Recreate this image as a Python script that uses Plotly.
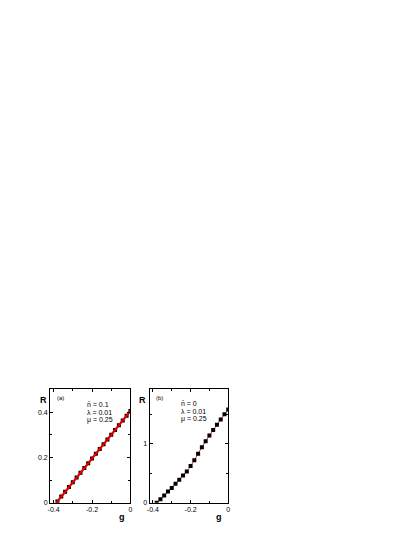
import plotly.graph_objects as go

# Panel (a): n̄ = 0.1
g_a = [-0.38, -0.36, -0.34, -0.32, -0.30, -0.28, -0.26, -0.24, -0.22, -0.20,
       -0.18, -0.16, -0.14, -0.12, -0.10, -0.08, -0.06, -0.04, -0.02, 0.00]
R_a = [0.005, 0.027, 0.048, 0.069, 0.090, 0.111, 0.132, 0.153, 0.174, 0.195,
       0.216, 0.237, 0.258, 0.279, 0.300, 0.321, 0.342, 0.363, 0.384, 0.405]
g_a_line = [-0.385, -0.30, -0.20, -0.10, 0.00]
R_a_line = [0.0, 0.090, 0.195, 0.300, 0.405]

# Panel (b): n̄ = 0
g_b = [-0.38, -0.36, -0.34, -0.32, -0.30, -0.28, -0.26, -0.24, -0.22, -0.20,
       -0.18, -0.16, -0.14, -0.12, -0.10, -0.08, -0.06, -0.04, -0.02, 0.00]
R_b = [0.00, 0.06, 0.12, 0.19, 0.25, 0.32, 0.39, 0.46, 0.53, 0.62,
       0.72, 0.83, 0.94, 1.04, 1.14, 1.23, 1.32, 1.41, 1.50, 1.58]

x_tickvals = [-0.4, -0.2, 0]
x_ticktext = ["-0.4", "-0.2", "0"]
ya_tickvals = [0, 0.2, 0.4]
ya_ticktext = ["0", "0.2", "0.4"]
yb_tickvals = [0, 1]
yb_ticktext = ["0", "1"]

labels_a = ["(a)", "n\u0304 = 0.1", "\u03bb = 0.01", "\u03bc = 0.25"]
labels_b = ["(b)", "n\u0304 = 0", "\u03bb = 0.01", "\u03bc = 0.25"]

FONT = "Liberation Sans, Arial, sans-serif"

fig = go.Figure()

# panel a
fig.add_trace(go.Scatter(x=g_a, y=R_a, mode="markers", xaxis="x", yaxis="y",
                         marker=dict(symbol="square", size=4, color="black"),
                         showlegend=False))
fig.add_trace(go.Scatter(x=g_a_line, y=R_a_line, mode="lines", xaxis="x", yaxis="y",
                         line=dict(color="#e00000", width=2.2), showlegend=False))
# panel b
fig.add_trace(go.Scatter(x=g_b, y=R_b, mode="lines", xaxis="x2", yaxis="y2",
                         line=dict(color="#ff2020", width=1, shape="spline"),
                         showlegend=False))
fig.add_trace(go.Scatter(x=g_b, y=R_b, mode="markers", xaxis="x2", yaxis="y2",
                         marker=dict(symbol="square", size=4, color="black"),
                         showlegend=False))

common = dict(showline=True, linecolor="black", linewidth=1, mirror="allticks",
              ticks="inside", ticklen=3, tickwidth=1, tickcolor="black",
              showgrid=False, zeroline=False,
              tickfont=dict(family=FONT, size=7, color="black"))

y_dom = [1 - 505.5 / 537, 1 - 391 / 537]

fig.update_layout(
    width=415, height=537,
    paper_bgcolor="white", plot_bgcolor="white",
    margin=dict(l=0, r=0, t=0, b=0),
    hovermode=False,
    xaxis=dict(domain=[47.7 / 415, 129 / 415], range=[-0.418, 0], anchor="y",
               tickvals=x_tickvals, ticktext=x_ticktext,
               minor=dict(dtick=0.1, tick0=0, ticks="inside", ticklen=2, tickcolor="black"),
               **common),
    yaxis=dict(domain=y_dom, range=[0, 0.503], anchor="x",
               tickvals=ya_tickvals, ticktext=ya_ticktext,
               minor=dict(dtick=0.1, tick0=0, ticks="inside", ticklen=2, tickcolor="black"),
               **common),
    xaxis2=dict(domain=[148.3 / 415, 228 / 415], range=[-0.418, 0], anchor="y2",
                tickvals=x_tickvals, ticktext=x_ticktext,
                minor=dict(dtick=0.1, tick0=0, ticks="inside", ticklen=2, tickcolor="black"),
                **common),
    yaxis2=dict(domain=y_dom, range=[0, 1.93], anchor="x2",
                tickvals=yb_tickvals, ticktext=yb_ticktext,
                minor=dict(dtick=0.5, tick0=0, ticks="inside", ticklen=2, tickcolor="black"),
                **common),
)

def pan(x, y, text, size=7, bold=False, xanchor="left"):
    fig.add_annotation(x=x / 415, y=1 - y / 537, xref="paper", yref="paper",
                       text=("<b>%s</b>" % text) if bold else text,
                       showarrow=False, xanchor=xanchor, yanchor="middle",
                       font=dict(family=FONT, size=size, color="black"))

# axis titles
pan(41, 402, "R", size=9, bold=True, xanchor="center")
pan(120, 520, "g", size=9, bold=True, xanchor="center")
pan(141, 402, "R", size=9, bold=True, xanchor="center")
pan(219, 520, "g", size=9, bold=True, xanchor="center")

# panel labels and parameters
pan(53, 400, labels_a[0], size=6)
pan(83, 407, labels_a[1])
pan(83, 415, labels_a[2])
pan(83, 422, labels_a[3])

pan(153, 400, labels_b[0], size=6)
pan(178, 406, labels_b[1])
pan(178, 414, labels_b[2])
pan(178, 421, labels_b[3])

fig.write_html("out.html", config={"displayModeBar": False, "staticPlot": True},
               post_script="document.body.style.margin='0';")
